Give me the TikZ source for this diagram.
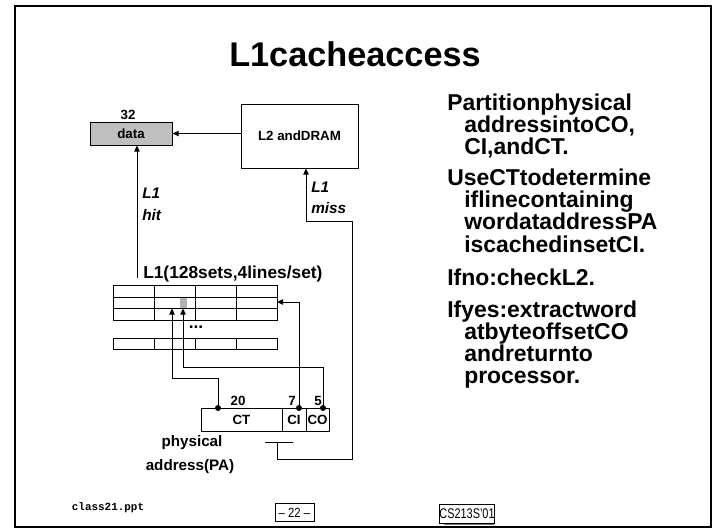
\documentclass[tikz,border=0pt]{standalone}
\usepackage{fontspec}
\setmainfont{Liberation Sans}
\setmonofont{Liberation Mono}
\usetikzlibrary{arrows.meta}
\tikzset{
  arr/.style={-{Triangle[length=4.5pt,width=4pt]}, line width=0.75pt},
  wire/.style={line width=0.75pt},
  cellbox/.style={draw, line width=0.75pt, inner sep=0pt, font=\bfseries\fontsize{10}{12}\selectfont},
  lbl/.style={inner sep=0pt, font=\bfseries\fontsize{10}{12}\selectfont},
  itl/.style={inner sep=0pt, anchor=west, font=\bfseries\itshape\fontsize{11.5}{13}\selectfont},
  bul/.style={inner sep=0pt, anchor=base west, font=\bfseries\fontsize{17.2}{19}\selectfont},
  dot/.style={circle, fill=black, inner sep=0pt, minimum size=4.5pt}
}
\begin{document}
\begin{tikzpicture}[x=0.75pt,y=-0.75pt]
\useasboundingbox (0,0) rectangle (713,528);
\fill[white] (0,0) rectangle (713,528);
\draw[line width=1.5pt] (15,6) rectangle (711,527);

% title
\node[inner sep=0pt, anchor=base, font=\bfseries\fontsize{25.7}{30}\selectfont] (title) at (355,66) {L1cacheaccess};

% data and L2 boxes
\node[cellbox, fill=black!25, minimum width=61.5pt, minimum height=17.25pt] (data) at (131,133.5) {data};
\node[lbl] (n32) at (128,115) {32};
\node[cellbox, minimum width=87.75pt, minimum height=48pt] (l2) at (299.5,136) {L2 andDRAM};
\draw[arr] (l2.west |- data.east) -- (data.east);

% L1 hit
\coordinate (hitstart) at (137,278);
\draw[arr] (hitstart) -- (hitstart |- data.south);
\node[itl] (hitL1) at (142,193) {L1};
\node[itl] (hitT) at (142,215) {hit};

% L1 table
\node[inner sep=0pt, anchor=west, font=\bfseries\fontsize{13}{15}\selectfont] (tlabel) at (143,274) {L1(128sets,4lines/set)};
\fill[black!30] (180,297) rectangle (187,308);
\draw[wire] (113,285) rectangle (277,320);
\draw[wire] (113,297) -- (277,297) (113,308) -- (277,308);
\foreach \x in {154,195,236} \draw[wire] (\x,285) -- (\x,320);
\draw[wire] (113,338) rectangle (277,349);
\foreach \x in {154,195,236} \draw[wire] (\x,338) -- (\x,349);
\node[inner sep=0pt, font=\bfseries\fontsize{13}{15}\selectfont] (dots) at (196,327) {...};
\coordinate (tabR) at (277,302);
\coordinate (tagIn) at (172,308.5);
\coordinate (offIn) at (183,308.5);

% physical address
\node[cellbox, minimum width=60.75pt, minimum height=17.25pt] (ct) at (241.5,419.5) {CT};
\node[cellbox, minimum width=18pt, minimum height=17.25pt] (ci) at (294,419.5) {CI};
\node[cellbox, minimum width=17.25pt, minimum height=17.25pt] (co) at (317.5,419.5) {CO};
\node[dot] (dct) at (218,408) {};
\node[dot] (dci) at (299,408) {};
\node[dot] (dco) at (323,408) {};
\node[lbl] (n20) at (238,401) {20};
\node[lbl] (n7) at (292,401) {7};
\node[lbl] (n5) at (318,401) {5};
\node[inner sep=0pt, font=\bfseries\fontsize{11.4}{13}\selectfont] (phys) at (192,443) {physical};
\node[inner sep=0pt, font=\bfseries\fontsize{11.4}{13}\selectfont] (paddr) at (190,467) {address(PA)};

\draw[arr] (dct.center) -- (218,378) -- (172,378) -- (tagIn);
\draw[arr] (dco.center) -- (323,367) -- (183,367) -- (offIn);
\draw[arr] (dci.center) -- (299,302) -- (tabR);

% L1 miss
\coordinate (barL) at (265,442);
\coordinate (barR) at (293,442);
\coordinate (stem) at (277,442);
\draw[wire] (barL) -- (barR);
\draw[arr] (stem) -- (277,459) -- (352,459) -- (352,221) -- (306,221) -- (l2.south -| 306,0);
\node[itl] (missL1) at (311,187) {L1};
\node[itl] (missT) at (311,208) {miss};

% right text
\node[bul] (r1) at (447,110.5) {Partitionphysical};
\node[bul] (r2) at (464,132.5) {addressintoCO,};
\node[bul] (r3) at (464,154.5) {CI,andCT.};
\node[bul] (r4) at (447,185.5) {UseCTtodetermine};
\node[bul] (r5) at (464,207.5) {iflinecontaining};
\node[bul] (r6) at (464,229.5) {wordataddressPA};
\node[bul] (r7) at (464,252) {iscachedinsetCI.};
\node[bul] (r8) at (447,285.5) {Ifno:checkL2.};
\node[bul] (r9) at (447,317.5) {Ifyes:extractword};
\node[bul] (r10) at (464,339.5) {atbyteoffsetCO};
\node[bul] (r11) at (464,361) {andreturnto};
\node[bul] (r12) at (464,383) {processor.};

% footer
\node[inner sep=0pt, font=\ttfamily\bfseries\fontsize{8.2}{10}\selectfont] (fname) at (108,508) {class21.ppt};
\node[draw, line width=0.6pt, minimum width=29.25pt, minimum height=13.5pt, inner sep=0pt, font=\fontsize{10}{11}\selectfont] (page) at (294.5,512.5) {\scalebox{0.85}[1]{– 22 –}};
\fill[black!55] (444,506) rectangle (494,525);
\node[draw, fill=white, line width=0.6pt, minimum width=37.5pt, minimum height=14.25pt, inner sep=0pt, font=\fontsize{10.5}{11}\selectfont] (course) at (467,513.5) {\scalebox{0.78}[1]{CS213S'01}};
\end{tikzpicture}
\end{document}
